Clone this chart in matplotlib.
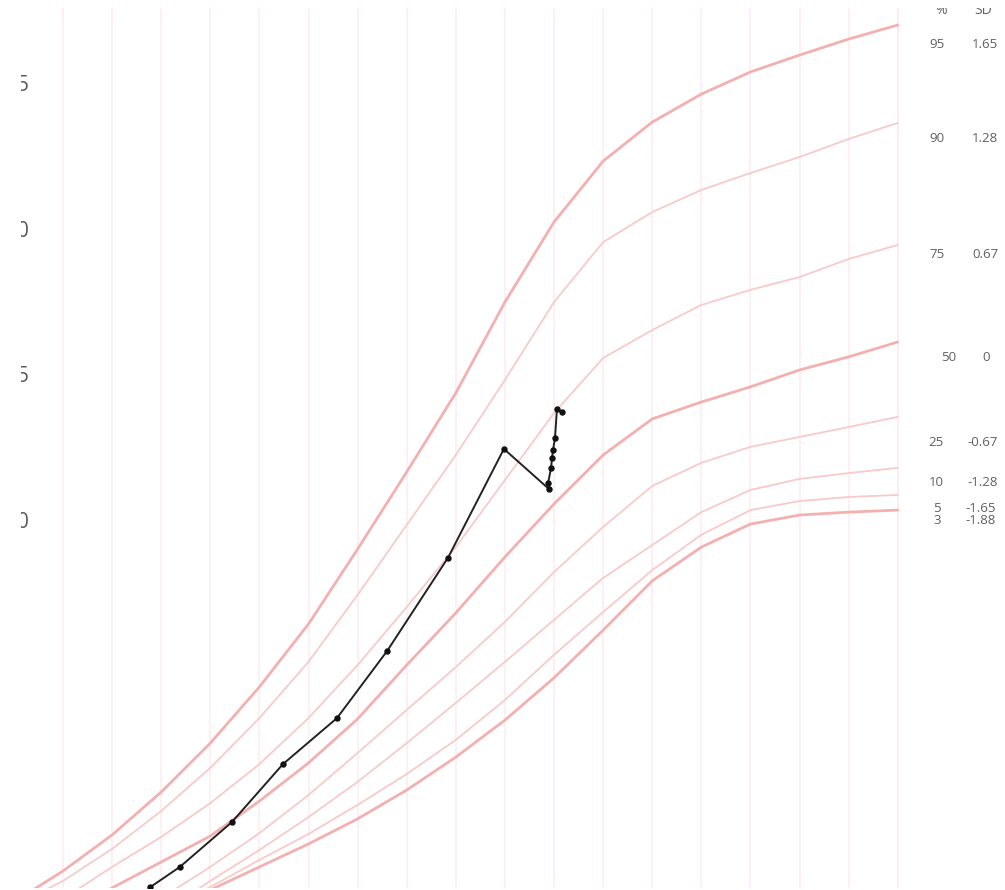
import numpy as np
import matplotlib
matplotlib.use("Agg")
import matplotlib.pyplot as plt
from matplotlib.transforms import Bbox, TransformedBbox

# ---------------- data ----------------
ages = [9.0, 9.5, 10.0, 10.5, 11.0, 11.5, 12.0, 12.5, 13.0, 13.5,
        14.0, 14.5, 15.0, 15.5, 16.0, 16.5, 17.0, 17.5, 18.0]
grid_ages = ages[1:]
nan = float("nan")

p95 = [136.89, 137.95, 139.19, 140.66, 142.34, 144.27, 146.43, 149.00, 151.65, 154.36,
       157.48, 160.23, 162.32, 163.66, 164.62, 165.38, 165.96, 166.51, 166.99]
p90 = [136.75, 137.61, 138.71, 140.01, 141.49, 143.20, 145.13, 147.43, 149.83, 152.23,
       154.81, 157.48, 159.54, 160.57, 161.33, 161.91, 162.46, 163.08, 163.63]
p75 = [nan, 136.99, 138.09, 139.12, 140.28, 141.62, 143.20, 145.02, 147.01, 149.07,
       151.37, 153.67, 155.56, 156.52, 157.38, 157.90, 158.34, 158.96, 159.44]
p50 = [nan, 136.51, 137.37, 138.26, 139.15, 140.35, 141.66, 143.17, 145.02, 146.81,
       148.73, 150.55, 152.23, 153.47, 154.05, 154.57, 155.15, 155.60, 156.11]
p25 = [nan, nan, nan, 137.02, 138.09, 139.25, 140.56, 142.00, 143.48, 144.95,
       146.50, 148.21, 149.76, 151.17, 151.96, 152.51, 152.85, 153.19, 153.54]
p10 = [nan, nan, nan, 136.47, 137.61, 138.67, 139.80, 141.01, 142.34, 143.72,
       145.13, 146.57, 148.01, 149.14, 150.27, 151.03, 151.41, 151.61, 151.79]
p5 = [nan, nan, nan, 136.58, 137.40, 138.33, 139.22, 140.22, 141.28, 142.45,
      143.82, 145.37, 146.84, 148.28, 149.49, 150.34, 150.65, 150.79, 150.86]
p3 = [nan, nan, nan, 136.54, 137.30, 138.09, 138.88, 139.74, 140.73, 141.86,
      143.13, 144.58, 146.22, 147.91, 149.07, 149.86, 150.17, 150.27, 150.34]

child_age = [10.39, 10.69, 11.22, 11.74, 12.29, 12.80, 13.42, 13.99,
             14.45, 14.44, 14.47, 14.48, 14.49, 14.51, 14.53, 14.58]
child_height = [137.40, 138.09, 139.63, 141.62, 143.20, 145.50, 148.70, 152.44,
                151.06, 151.27, 151.79, 152.13, 152.40, 152.81, 153.81, 153.71]

y_ticks = [150, 155, 160, 165]
y_tick_labels = ["0", "5", "0", "5"]

pct_labels = ["95", "90", "75", "50", "25", "10", "5", "3"]
sd_labels = ["1.65", "1.28", "0.67", "0", "-0.67", "-1.28", "-1.65", "-1.88"]
header = ["%", "SD"]

# ---------------- layout ----------------
W, H = 1005, 890
fig = plt.figure(figsize=(W / 100, H / 100), dpi=100)
fig.patch.set_facecolor("white")

ax_l, ax_r, ax_t, ax_b = 30, 901, 8, 888
ax = fig.add_axes([ax_l / W, 1 - ax_b / H, (ax_r - ax_l) / W, (ax_b - ax_t) / H])
ax.set_facecolor("white")

x_left = 9.5 + 0.5 * (ax_l - 63) / 49.1
x_right = 9.5 + 0.5 * (ax_r - 63) / 49.1
y_bottom = 150 - (ax_b - 520) / 29.13
y_top = 150 + (520 - ax_t) / 29.13
ax.set_xlim(x_left, x_right)
ax.set_ylim(y_bottom, y_top)

for s in ax.spines.values():
    s.set_visible(False)

ax.set_xticks(grid_ages)
ax.tick_params(axis="x", length=0, labelbottom=False)
ax.grid(axis="x", color="#fdeef1", linewidth=1.3)
ax.axvline(grid_ages[-1], color="#fad8de", linewidth=1.4, zorder=1)

ax.set_yticks(y_ticks)
ax.set_yticklabels(y_tick_labels)
ax.tick_params(axis="y", length=0, pad=1.0, labelsize=15, labelcolor="#5a5a5a")
for lab in ax.get_yticklabels():
    lab.set_fontfamily("Open Sans")

left_clip = TransformedBbox(Bbox.from_extents(20.5 / W, 0, 1, 1), fig.transFigure)
for t in ax.yaxis.get_major_ticks():
    t.label1.set_clip_on(True)
    t.label1.set_clip_box(left_clip)

thick_c = "#f4b0b0"
thin_c = "#f8caca"
curves = [(p95, thick_c, 2.0), (p90, thin_c, 1.3), (p75, thin_c, 1.3),
          (p50, thick_c, 2.0), (p25, thin_c, 1.3), (p10, thin_c, 1.3),
          (p5, thin_c, 1.3), (p3, thick_c, 2.0)]
for vals, c, lw in curves:
    ax.plot(ages, vals, color=c, linewidth=lw, solid_capstyle="round",
            solid_joinstyle="round", zorder=2)

ax.plot(child_age, child_height, color="#222222", linewidth=1.4, marker="o",
        markersize=3.6, markerfacecolor="#111111", markeredgecolor="#111111", zorder=5)

# ---------------- right-hand labels ----------------
label_py = [45, 139, 254, 357, 442, 483, 508, 521]
pct_x = [937, 937, 937, 949, 936, 936, 937, 937]
sd_x = [985, 985, 985, 986, 983, 983, 981, 981]
for p, sd, py, px1, px2 in zip(pct_labels, sd_labels, label_py, pct_x, sd_x):
    fig.text(px1 / W, 1 - py / H, p, ha="center", va="center", fontsize=9.5,
             color="#606060", family="Open Sans")
    fig.text(px2 / W, 1 - py / H, sd, ha="center", va="center", fontsize=9.5,
             color="#606060", family="Open Sans")

top_clip = TransformedBbox(Bbox.from_extents(0, 0, 1, 1 - 8 / H), fig.transFigure)
for txt, px in zip(header, [941, 983]):
    t = fig.text(px / W, 1 - 10 / H, txt, ha="center", va="center", fontsize=10,
                 color="#606060", family="Open Sans")
    t.set_clip_on(True)
    t.set_clip_box(top_clip)

fig.savefig("out.png", dpi=100, facecolor="white")
